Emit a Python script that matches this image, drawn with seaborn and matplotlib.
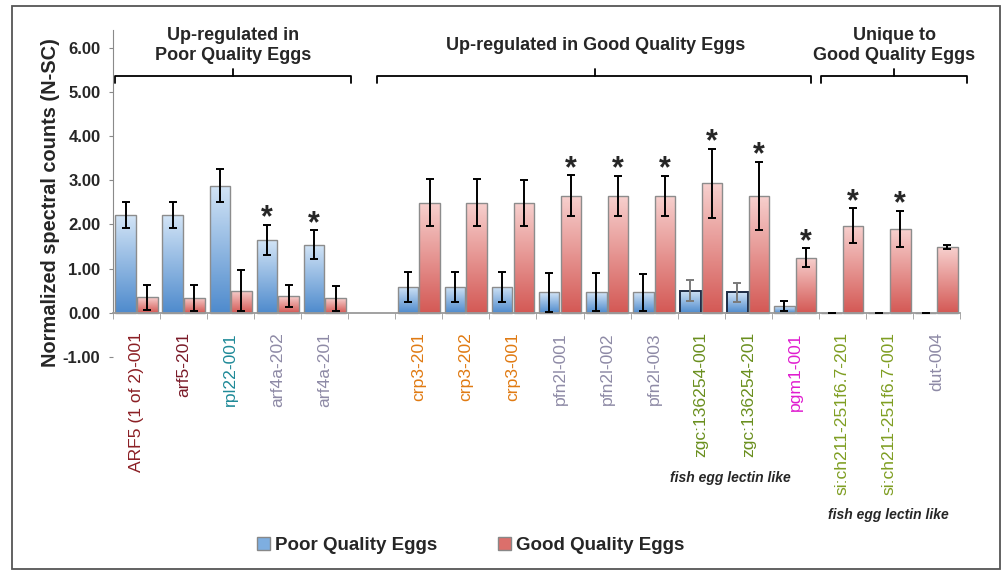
import numpy as np
import pandas as pd
import seaborn as sns
import matplotlib.pyplot as plt
from matplotlib.patches import Patch, Rectangle
from matplotlib.colors import LinearSegmentedColormap
from matplotlib.container import BarContainer

# Data
genes = ["ARF5 (1 of 2)-001", "arf5-201", "rpl22-001", "arf4a-202", "arf4a-201",
         "crp3-201", "crp3-202", "crp3-001", "pfn2l-001", "pfn2l-002", "pfn2l-003",
         "zgc:136254-001", "zgc:136254-201", "pgm1-001",
         "si:ch211-251f6.7-201", "si:ch211-251f6.7-001", "dut-004"]
poor = [2.21, 2.21, 2.88, 1.65, 1.54, 0.59, 0.59, 0.59, 0.46, 0.46, 0.46,
        0.50, 0.46, 0.15, 0.0, 0.0, 0.0]
poor_err = [0.30, 0.30, 0.38, 0.34, 0.33, 0.34, 0.34, 0.34, 0.44, 0.43, 0.42,
            0.24, 0.22, 0.11, 0.0, 0.0, 0.0]
good = [0.35, 0.34, 0.50, 0.38, 0.33, 2.49, 2.49, 2.49, 2.65, 2.65, 2.65,
        2.93, 2.65, 1.25, 1.97, 1.90, 1.49]
good_err = [0.28, 0.29, 0.47, 0.25, 0.28, 0.53, 0.53, 0.52, 0.46, 0.45, 0.45,
            0.78, 0.77, 0.21, 0.40, 0.41, 0.04]
star = ["", "", "", "poor", "poor", "", "", "", "good", "good", "good",
        "good", "good", "good", "good", "good", ""]
label_colors = ["#8b1f24", "#7a1a28", "#1f8a98", "#8e8aa6", "#8e8aa6",
                "#e07a12", "#e07a12", "#e07a12", "#8e8aa6", "#8e8aa6", "#8e8aa6",
                "#6a8f1e", "#6a8f1e", "#e01ccf",
                "#7f9e22", "#7f9e22", "#8e8aa6"]

groups = ["Poor Quality Eggs", "Good Quality Eggs"]
# one empty slot between the first two gene groups
order = genes[:5] + [""] + genes[5:]

df = pd.DataFrame({
    "gene": genes * 2,
    "group": [groups[0]] * len(genes) + [groups[1]] * len(genes),
    "value": poor + good,
    "err": poor_err + good_err,
})

sns.set_style("white")
plt.rcParams["font.family"] = ["Liberation Sans", "DejaVu Sans"]

fig = plt.figure(figsize=(10.06, 5.71), dpi=100)
ax = fig.add_axes([0.1123, 0.3748, 0.842, 0.5727])

sns.barplot(data=df, x="gene", y="value", hue="group", order=order,
            hue_order=groups, palette=["#7eaee0", "#dc6f6b"], width=0.92,
            gap=0.05, errorbar=None, edgecolor="#8c8c8c", linewidth=1.0,
            legend=False, ax=ax)

cmaps = [LinearSegmentedColormap.from_list("b", ["#4f8bcd", "#d2e4f6"]),
         LinearSegmentedColormap.from_list("r", ["#d45955", "#f7d0ce"])]
grad = np.linspace(0, 1, 100).reshape(-1, 1)
dark_edge = {"zgc:136254-001", "zgc:136254-201"}

lookup = df.set_index(["gene", "group"])
bar_sets = [c for c in ax.containers if isinstance(c, BarContainer)]
for gi, cont in enumerate(bar_sets):
    for bar in cont:
        xc = bar.get_x() + bar.get_width() / 2
        gene = order[int(round(xc))]
        if not gene:
            continue
        h = lookup.loc[(gene, groups[gi]), "value"]
        e = lookup.loc[(gene, groups[gi]), "err"]
        x0, x1 = bar.get_x(), bar.get_x() + bar.get_width()
        if h > 0:
            im = ax.imshow(grad, extent=[x0, x1, 0, h], origin="lower",
                           aspect="auto", cmap=cmaps[gi], zorder=1.5)
            im.set_clip_path(bar)
        bar.set_facecolor("none")
        bar.set_zorder(2)
        ecol = "black"
        if gi == 0 and gene in dark_edge:
            bar.set_edgecolor("#1e2c45")
            bar.set_linewidth(1.4)
            ecol = "#7a7a7a"
        ax.errorbar(xc, h, yerr=e, fmt="none", ecolor=ecol, elinewidth=1.4,
                    capsize=3, capthick=1.4, zorder=5)

# significance stars
for i, g in enumerate(genes):
    if not star[i]:
        continue
    xi = order.index(g)
    if star[i] == "poor":
        xs, top = xi - 0.225, poor[i] + poor_err[i]
    else:
        xs, top = xi + 0.225, good[i] + good_err[i]
    ax.text(xs, top - 0.2, "*", ha="center", va="bottom",
            fontsize=22, fontweight="bold")

# group brackets and headers
brackets = [(-0.46, 4.56, 2.05, "Up-regulated in\nPoor Quality Eggs"),
            (5.12, 14.33, 9.75, "Up-regulated in Good Quality Eggs"),
            (14.54, 17.65, 16.1, "Unique to\nGood Quality Eggs")]
for x0, x1, xm, title in brackets:
    ax.plot([x0, x0, x1, x1], [5.2, 5.36, 5.36, 5.2], color="black",
            lw=1.3, clip_on=False)
    ax.plot([xm, xm], [5.36, 5.52], color="black", lw=1.3, clip_on=False)
    ax.text(xm, 6.05, title, ha="center", va="center", fontsize=13,
            fontweight="bold", linespacing=1.2, clip_on=False)

ax.text(12.63, -3.73, "fish egg lectin like", ha="center", va="center",
        fontsize=10, fontweight="bold", style="italic")
ax.text(15.97, -4.57, "fish egg lectin like", ha="center", va="center",
        fontsize=10, fontweight="bold", style="italic")

ax.set_xlim(-0.5, 17.5)
ax.set_ylim(-1, 6.4)
for s in ["top", "right"]:
    ax.spines[s].set_visible(False)
ax.spines["left"].set_bounds(0, 6.4)
ax.spines["left"].set_color("#8a8a8a")
ax.spines["bottom"].set_position(("data", 0))
ax.spines["bottom"].set_color("#9a9a9a")
ax.spines["bottom"].set_linewidth(1.3)

ax.set_xticks(range(len(order)))
ax.set_xticklabels(order, rotation=90, fontsize=12.6, va="top")
ax.set_xticks(np.arange(-0.5, len(order), 1), minor=True)
ax.tick_params(axis="x", which="major", length=0, pad=14)
ax.tick_params(axis="x", which="minor", length=4, color="#9a9a9a",
               direction="out", bottom=True)
for lab, g in zip(ax.get_xticklabels(), order):
    if g:
        lab.set_color(label_colors[genes.index(g)])

ax.set_yticks(range(-1, 7))
ax.set_yticklabels([f"{v:.2f}" for v in range(-1, 7)], fontsize=12,
                   fontweight="bold")
ax.tick_params(axis="y", length=3, color="#8a8a8a", left=True, pad=6)
ax.set_xlabel("")
ax.set_ylabel("Normalized spectral counts (N-SC)", fontsize=14.4,
              fontweight="bold")
ax.yaxis.set_label_coords(-0.062, 0.471)

handles = [Patch(facecolor="#7eaee0", edgecolor="#888888"),
           Patch(facecolor="#dc6f6b", edgecolor="#888888")]
fig.legend(handles, groups, loc="center", bbox_to_anchor=(0.468, 0.045),
           ncol=2, frameon=False, handlelength=0.7, handleheight=0.7,
           handletextpad=0.3, columnspacing=3.2,
           prop={"weight": "bold", "size": 13.5})

fig.patches.append(Rectangle((0.012, 0.003), 0.982, 0.986, fill=False,
                             edgecolor="#555555", lw=1.3,
                             transform=fig.transFigure))

fig.savefig("out.png", dpi=100)
